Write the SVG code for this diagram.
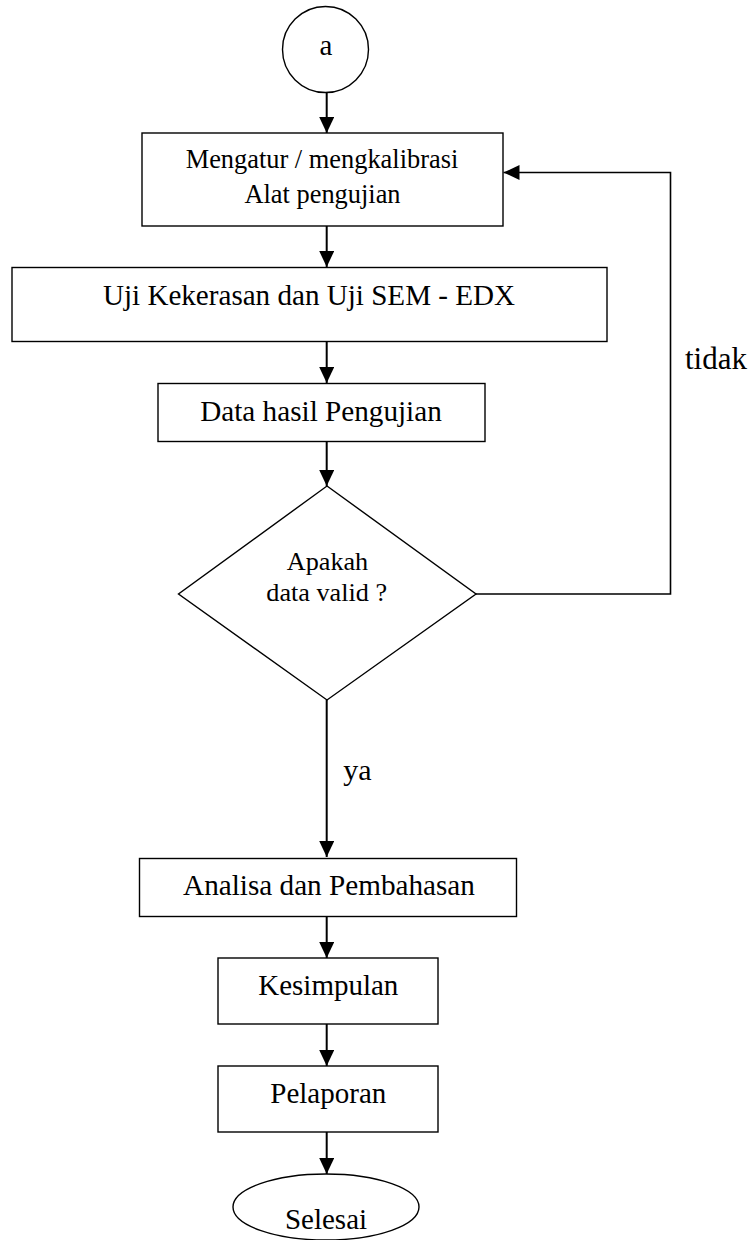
<svg xmlns="http://www.w3.org/2000/svg" width="755" height="1240" viewBox="0 0 755 1240">
<style>
.n{fill:#fff;stroke:#000;stroke-width:1.4}
.t{font-family:"Liberation Serif","Times New Roman",serif;fill:#000;text-anchor:middle}
.c{fill:none;stroke:#000;stroke-width:2}
.f{fill:none;stroke:#000;stroke-width:1.6}
</style>
<defs>
<marker id="ah" markerWidth="16" markerHeight="15" refX="16" refY="7.5" orient="auto" markerUnits="userSpaceOnUse">
<path d="M0,0 L16,7.5 L0,15 Z" fill="#000"/>
</marker>
</defs>
<rect width="755" height="1240" fill="#fff"/>
<g id="connectors">
<line class="c" x1="326.7" y1="92" x2="326.7" y2="133" marker-end="url(#ah)"/>
<line class="c" x1="326.7" y1="226" x2="326.7" y2="267" marker-end="url(#ah)"/>
<line class="c" x1="326.7" y1="342" x2="326.7" y2="383" marker-end="url(#ah)"/>
<line class="c" x1="326.7" y1="442" x2="326.7" y2="486" marker-end="url(#ah)"/>
<line class="c" x1="326.7" y1="700" x2="326.7" y2="857" marker-end="url(#ah)"/>
<line class="c" x1="326.7" y1="917" x2="326.7" y2="958" marker-end="url(#ah)"/>
<line class="c" x1="326.7" y1="1024" x2="326.7" y2="1066" marker-end="url(#ah)"/>
<line class="c" x1="326.7" y1="1132" x2="326.7" y2="1174" marker-end="url(#ah)"/>
<polyline class="f" points="476,594 670.5,594 670.5,172.5 503.5,172.5" marker-end="url(#ah)"/>
<text class="t" x="716" y="369" font-size="31">tidak</text>
<text class="t" x="357.5" y="780" font-size="30">ya</text>
</g>
<g id="start">
<circle class="n" cx="325.5" cy="49.5" r="43"/>
<text class="t" x="326" y="55" font-size="29">a</text>
</g>
<g id="kalibrasi">
<rect class="n" x="142" y="133" width="361" height="93"/>
<text class="t" x="322" y="168" font-size="26.4">Mengatur / mengkalibrasi</text>
<text class="t" x="322.5" y="203" font-size="26.4">Alat pengujian</text>
</g>
<g id="uji">
<rect class="n" x="12" y="267.5" width="595" height="74"/>
<text class="t" x="309" y="305" font-size="29.1">Uji Kekerasan dan Uji SEM - EDX</text>
</g>
<g id="data">
<rect class="n" x="158" y="383.5" width="327" height="58"/>
<text class="t" x="321" y="421" font-size="29.2">Data hasil Pengujian</text>
</g>
<g id="valid">
<polygon class="n" points="327,486 476,594 327,700 178.5,594"/>
<text class="t" x="327.5" y="570" font-size="26.2">Apakah</text>
<text class="t" x="326.7" y="601" font-size="26.2">data valid ?</text>
</g>
<g id="analisa">
<rect class="n" x="139.5" y="858.5" width="377" height="58"/>
<text class="t" x="329" y="895" font-size="29.2">Analisa dan Pembahasan</text>
</g>
<g id="kesimpulan">
<rect class="n" x="218" y="958" width="220" height="66"/>
<text class="t" x="328.3" y="995" font-size="29">Kesimpulan</text>
</g>
<g id="pelaporan">
<rect class="n" x="218" y="1066" width="220" height="66"/>
<text class="t" x="328.3" y="1103" font-size="29">Pelaporan</text>
</g>
<g id="selesai">
<ellipse class="n" cx="326" cy="1207" rx="93" ry="33"/>
<text class="t" x="326" y="1229" font-size="29">Selesai</text>
</g>
</svg>
